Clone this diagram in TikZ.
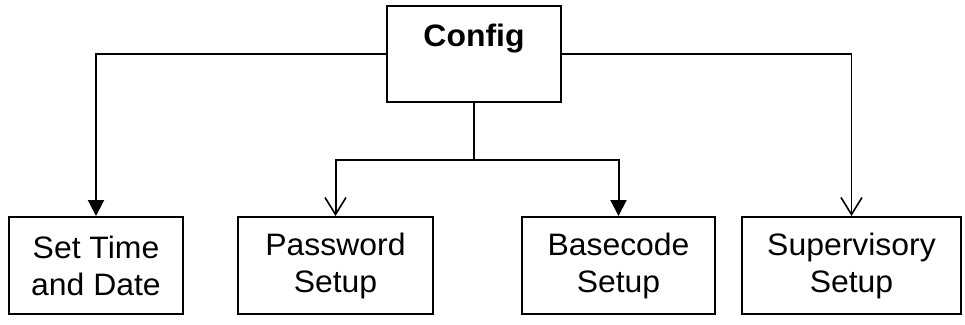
\documentclass[tikz,border=0pt]{standalone}
\usepackage{fontspec}
\setmainfont[FakeStretch=1.03]{Liberation Sans}
\usetikzlibrary{arrows.meta}

\tikzset{
  box/.style={draw=black, line width=2pt, inner sep=0pt, align=center,
    font=\fontsize{31}{37}\selectfont},
  leafbox/.style={box, minimum height=97pt},
  wire/.style={draw=black, line width=2pt},
  thinwire/.style={draw=black, line width=1.1pt},
  solidhead/.style={-{Triangle[length=16pt,width=16pt]}},
  openhead/.style={-{Straight Barb[length=17pt,width=21pt,line width=1.6pt]}},
}

\begin{document}
\begin{tikzpicture}[x=1pt, y=-1pt]
  \useasboundingbox (0,0) rectangle (965,324);

  % top node
  \node[box, minimum width=174pt, minimum height=96pt] (cfg) at (474,54) {};
  \node[font=\fontsize{31}{37}\selectfont\bfseries, inner sep=0pt] (cfgtext)
    at (474,38.5) {Config};

  % leaf nodes
  \node[leafbox, minimum width=174pt] (std) at (96,265.5) {Set Time\\and Date};
  \node[leafbox, minimum width=195pt] (pw)  at (335.5,265.5) {Password\\Setup};
  \node[leafbox, minimum width=193pt] (bc)  at (618.5,265.5) {Basecode\\Setup};
  \node[leafbox, minimum width=219pt] (sup) at (851.5,265.5) {Supervisory\\Setup};

  % connectors
  \coordinate (split) at (cfg.south |- 0,160);
  \draw[wire, solidhead] (cfg.west) -| (std.north);
  \draw[thinwire, openhead] (cfg.east) -| (sup.north);
  \draw[wire] (cfg.south) -- (split);
  \draw[wire, openhead] (split) -| (pw.north);
  \draw[wire, solidhead] (split) -| (bc.north);
\end{tikzpicture}
\end{document}
